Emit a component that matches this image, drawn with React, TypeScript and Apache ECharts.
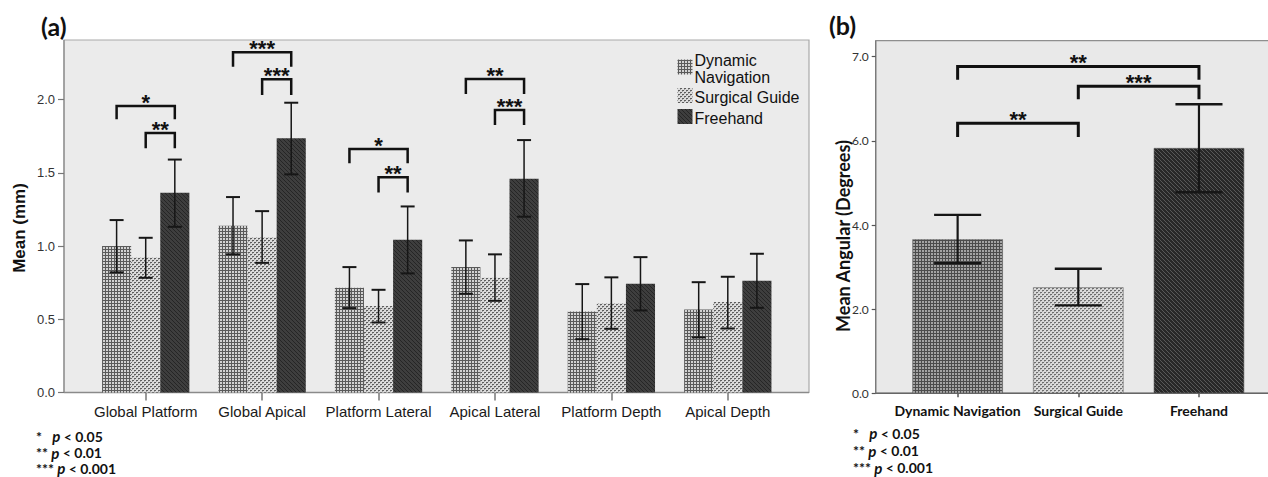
import React, { useEffect, useRef } from "react";
import * as echarts from "echarts";

// ---------- Panel (a) data ----------
const categoriesA = ["Global Platform", "Global Apical", "Platform Lateral", "Apical Lateral", "Platform Depth", "Apical Depth"];
const seriesNames = ["Dynamic Navigation", "Surgical Guide", "Freehand"];
const legendLabels = ["Dynamic\nNavigation", "Surgical Guide", "Freehand"];

const dynamicNavMean = [1.0, 1.138, 0.715, 0.856, 0.553, 0.567];
const dynamicNavLow = [0.82, 0.943, 0.576, 0.674, 0.364, 0.376];
const dynamicNavHigh = [1.177, 1.334, 0.856, 1.038, 0.74, 0.753];

const surgicalGuideMean = [0.922, 1.059, 0.59, 0.783, 0.61, 0.617];
const surgicalGuideLow = [0.783, 0.885, 0.478, 0.626, 0.435, 0.437];
const surgicalGuideHigh = [1.056, 1.238, 0.701, 0.943, 0.786, 0.79];

const freehandMean = [1.363, 1.735, 1.042, 1.459, 0.742, 0.762];
const freehandLow = [1.131, 1.489, 0.813, 1.2, 0.56, 0.578];
const freehandHigh = [1.59, 1.978, 1.27, 1.723, 0.924, 0.947];

const yTicksA = ["0.0", "0.5", "1.0", "1.5", "2.0"];

// brackets: [leftCat, leftSlot, rightCat, rightSlot, top, leg]
const bracketsA = [
  [0, -1, 0, 1, 1.956, 1.865],
  [0, 0, 0, 1, 1.771, 1.667],
  [1, -1, 1, 1, 2.322, 2.224],
  [1, 0, 1, 1, 2.138, 2.03],
  [2, -1, 2, 1, 1.662, 1.564],
  [2, 0, 2, 1, 1.469, 1.366],
  [3, -1, 3, 1, 2.14, 2.037],
  [3, 0, 3, 1, 1.928, 1.826],
];
const bracketLabelsA = ["*", "**", "***", "***", "*", "**", "**", "***"];

// ---------- Panel (b) data ----------
const categoriesB = ["Dynamic Navigation", "Surgical Guide", "Freehand"];
const angularMean = [3.66, 2.52, 5.83];
const angularLow = [3.09, 2.09, 4.78];
const angularHigh = [4.24, 2.96, 6.87];
const yTicksB = ["0.0", "2.0", "4.0", "6.0", "7.0"];
const bracketsB = [
  [0, 0, 2, 0, 7.77, 7.45],
  [1, 0, 2, 0, 7.3, 6.99],
  [0, 0, 1, 0, 6.42, 6.09],
];
const bracketLabelsB = ["**", "***", "**"];

const footnotes = [
  ["*   ", "p", " < 0.05"],
  ["** ", "p", " < 0.01"],
  ["*** ", "p", " < 0.001"],
];

function makePattern(size: number, bg: string, draw: (ctx: CanvasRenderingContext2D) => void) {
  const c = document.createElement("canvas");
  c.width = size;
  c.height = size;
  const ctx = c.getContext("2d")!;
  ctx.fillStyle = bg;
  ctx.fillRect(0, 0, size, size);
  draw(ctx);
  return { image: c, repeat: "repeat" } as any;
}

export default function App() {
  const ref = useRef<HTMLDivElement>(null);
  useEffect(() => {
    if (!ref.current) return;
    const chart = echarts.init(ref.current, undefined, { renderer: "svg" });

    const dnA = makePattern(3, "#d2d2d2", (c) => {
      c.fillStyle = "#5a5a5a";
      c.fillRect(0, 0, 3, 1);
      c.fillRect(0, 0, 1, 3);
    });
    const sgA = makePattern(4, "#dcdcdc", (c) => {
      c.fillStyle = "#5e5e5e";
      c.fillRect(0, 0, 2, 1);
      c.fillRect(2, 2, 2, 1);
      c.fillStyle = "#a4a4a4";
      c.fillRect(0, 1, 1, 1);
      c.fillRect(2, 3, 1, 1);
    });
    const fhA = makePattern(4, "#3e3e3e", (c) => {
      c.fillStyle = "#252525";
      for (let i = 0; i < 4; i++) c.fillRect(i, i, 1, 1);
    });
    const dnB = makePattern(3, "#a4a4a4", (c) => {
      c.fillStyle = "#4c4c4c";
      c.fillRect(0, 0, 3, 1);
      c.fillRect(0, 0, 1, 3);
    });
    const sgB = makePattern(4, "#dadada", (c) => {
      c.fillStyle = "#6e6e6e";
      c.fillRect(0, 0, 2, 1);
      c.fillRect(2, 2, 2, 1);
      c.fillStyle = "#adadad";
      c.fillRect(0, 1, 1, 1);
      c.fillRect(2, 3, 1, 1);
    });
    const fhB = makePattern(4, "#282828", (c) => {
      c.fillStyle = "#585858";
      for (let i = 0; i < 4; i++) c.fillRect(i, i, 1, 1);
    });
    const patternsA = [dnA, sgA, fhA];

    const meansA = [dynamicNavMean, surgicalGuideMean, freehandMean];
    const lowsA = [dynamicNavLow, surgicalGuideLow, freehandLow];
    const highsA = [dynamicNavHigh, surgicalGuideHigh, freehandHigh];

    const errorSeries = (xi: number, slot: number, frac: number, capFrac: number, lw: number, capW: number, lows: number[], highs: number[]) => ({
      type: "custom",
      xAxisIndex: xi,
      yAxisIndex: xi,
      z: 5,
      encode: { x: 0, y: [1, 2] },
      data: lows.map((l, i) => [i, l, highs[i]]),
      renderItem: (params: any, api: any) => {
        const cat = api.value(0);
        const lo = api.coord([cat, api.value(1)]);
        const hi = api.coord([cat, api.value(2)]);
        const band = api.size([1, 0])[0];
        const x = lo[0] + slot * band * frac;
        const half = (band * frac * capFrac) / 2;
        const st = { stroke: "#161616", lineWidth: lw };
        const cst = { stroke: "#161616", lineWidth: capW };
        return {
          type: "group",
          children: [
            { type: "line", shape: { x1: x, y1: lo[1], x2: x, y2: hi[1] }, style: st },
            { type: "line", shape: { x1: x - half, y1: hi[1], x2: x + half, y2: hi[1] }, style: cst },
            { type: "line", shape: { x1: x - half, y1: lo[1], x2: x + half, y2: lo[1] }, style: cst },
          ],
        };
      },
    });

    const bracketSeries = (xi: number, frac: number, data: number[][], labels: string[], lw: number) => ({
      type: "custom",
      xAxisIndex: xi,
      yAxisIndex: xi,
      z: 6,
      clip: false,
      encode: { x: [0, 2], y: [4, 5] },
      data,
      renderItem: (params: any, api: any) => {
        const band = api.size([1, 0])[0];
        const top = api.value(4);
        const leg = api.value(5);
        const l = api.coord([api.value(0), top]);
        const r = api.coord([api.value(2), top]);
        const yLeg = api.coord([api.value(0), leg])[1];
        const x1 = l[0] + api.value(1) * band * frac;
        const x2 = r[0] + api.value(3) * band * frac;
        const yTop = l[1];
        return {
          type: "group",
          children: [
            {
              type: "polyline",
              shape: { points: [[x1, yLeg], [x1, yTop], [x2, yTop], [x2, yLeg]] },
              style: { stroke: "#111", lineWidth: lw, fill: null },
            },
            {
              type: "text",
              x: (x1 + x2) / 2,
              y: yTop - 3.5,
              style: {
                text: labels[params.dataIndex],
                fill: "#111",
                font: "bold 22px 'Liberation Sans', Arial, sans-serif",
                align: "center",
                verticalAlign: "middle",
              },
            },
          ],
        };
      },
    });

    const legendChildren: any[] = [];
    const legendIconY = [59.5, 88, 109];
    const legendTextY = [52.5, 89.5, 110.5];
    legendLabels.forEach((lab, i) => {
      legendChildren.push({
        type: "rect",
        shape: { x: 677.5, y: legendIconY[i], width: 15, height: 15 },
        style: { fill: patternsA[i] },
      });
      legendChildren.push({
        type: "text",
        x: 694.5,
        y: legendTextY[i],
        style: {
          text: lab,
          fill: "#111",
          font: "16px 'Liberation Sans', Arial, sans-serif",
          lineHeight: 16.5,
          verticalAlign: "top",
          align: "left",
        },
      });
    });

    const footnoteText = (x: number, ys: number[]) =>
      footnotes.map((f, i) => ({
        type: "text",
        x,
        y: ys[i],
        style: {
          text: `{b|${f[0]}}{i|${f[1]}}{b|${f[2]}}`,
          verticalAlign: "middle",
          rich: {
            b: { fontFamily: "Lato", fontWeight: "bold", fontSize: 14, fill: "#111", lineHeight: 15 },
            i: { fontFamily: "Lato", fontWeight: "bold", fontStyle: "italic", fontSize: 15, fill: "#111", lineHeight: 15 },
          },
        },
      }));

    const option: any = {
      animation: false,
      backgroundColor: "#ffffff",
      grid: [
        { left: 87.5, width: 698.5, top: 99.5, height: 293 },
        { left: 897.3, width: 362, top: 56.7, height: 336.6 },
      ],
      xAxis: [
        {
          type: "category",
          gridIndex: 0,
          data: categoriesA,
          axisLine: { show: false },
          axisTick: { show: true, alignWithLabel: true, length: 8, lineStyle: { color: "#777", width: 1.5 } },
          axisLabel: { interval: 0, margin: 11, fontSize: 15, color: "#1a1a1a", fontFamily: "'Liberation Sans', Arial, sans-serif" },
        },
        {
          type: "category",
          gridIndex: 1,
          data: categoriesB,
          axisLine: { show: false },
          axisTick: { show: true, alignWithLabel: true, length: 4, lineStyle: { color: "#555", width: 1.5 } },
          axisLabel: { interval: 0, margin: 10, fontSize: 14, fontWeight: "bold", color: "#111", fontFamily: "Lato" },
        },
      ],
      yAxis: [
        {
          type: "value",
          gridIndex: 0,
          min: 0,
          max: 2,
          interval: 0.5,
          offset: 23.5,
          axisLine: { show: false },
          splitLine: { show: false },
          axisTick: { show: true, length: 6, lineStyle: { color: "#777", width: 1.2 } },
          axisLabel: {
            margin: 9,
            fontSize: 13,
            color: "#333",
            fontFamily: "'Liberation Sans', Arial, sans-serif",
            formatter: (v: number) => yTicksA[Math.round(v / 0.5)] ?? "",
          },
        },
        {
          type: "value",
          gridIndex: 1,
          min: 0,
          max: 8,
          interval: 2,
          offset: 21.6,
          axisLine: { show: false },
          splitLine: { show: false },
          axisTick: { show: true, length: 4, lineStyle: { color: "#555", width: 1.2 } },
          axisLabel: {
            margin: 7,
            fontSize: 12,
            color: "#333",
            fontFamily: "Lato",
            formatter: (v: number) => yTicksB[Math.round(v / 2)] ?? "",
          },
        },
      ],
      graphic: [
        {
          type: "rect",
          z: -10,
          shape: { x: 64, y: 40, width: 745, height: 352.5 },
          style: { fill: "#ebebeb", stroke: "#a9a9a9", lineWidth: 1.2 },
        },
        { type: "line", z: -9, shape: { x1: 64, y1: 392.5, x2: 809, y2: 392.5 }, style: { stroke: "#8a8a8a", lineWidth: 1.5 } },
        { type: "line", z: -9, shape: { x1: 64, y1: 40, x2: 64, y2: 392.5 }, style: { stroke: "#8a8a8a", lineWidth: 1.2 } },
        {
          type: "rect",
          z: -10,
          shape: { x: 875.7, y: 40.7, width: 400, height: 352.6 },
          style: { fill: "#e9e9e9", stroke: "#8f8f8f", lineWidth: 1.2 },
        },
        { type: "line", z: -9, shape: { x1: 875.7, y1: 393.3, x2: 1268, y2: 393.3 }, style: { stroke: "#666", lineWidth: 1.5 } },
        { type: "line", z: -9, shape: { x1: 875.7, y1: 40.7, x2: 875.7, y2: 393.3 }, style: { stroke: "#777", lineWidth: 1.2 } },
        { type: "group", children: legendChildren },
        {
          type: "text",
          x: 41,
          y: 26,
          style: { text: "(a)", fill: "#111", fontFamily: "Lato", fontWeight: "bold", fontSize: 25, verticalAlign: "middle" },
        },
        {
          type: "text",
          x: 829,
          y: 25,
          style: { text: "(b)", fill: "#111", fontFamily: "Lato", fontWeight: "bold", fontSize: 25, verticalAlign: "middle" },
        },
        {
          type: "text",
          x: 19,
          y: 228,
          rotation: Math.PI / 2,
          style: {
            text: "Mean (mm)",
            fill: "#111",
            fontFamily: "'Liberation Sans', Arial, sans-serif",
            fontWeight: "bold",
            fontSize: 17,
            align: "center",
            verticalAlign: "middle",
          },
        },
        {
          type: "text",
          x: 843,
          y: 236,
          rotation: Math.PI / 2,
          style: {
            text: "Mean Angular (Degrees)",
            fill: "#111",
            fontFamily: "Lato",
            fontWeight: "bold",
            fontSize: 18,
            align: "center",
            verticalAlign: "middle",
          },
        },
        ...footnoteText(36, [436, 452.5, 468]),
        ...footnoteText(853, [433, 450.5, 467.5]),
      ],
      series: [
        ...seriesNames.map((name, i) => ({
          name,
          type: "bar",
          xAxisIndex: 0,
          yAxisIndex: 0,
          barWidth: "25%",
          barGap: "0%",
          data: meansA[i],
          itemStyle: { color: patternsA[i] },
        })),
        ...[0, 1, 2].map((s) => errorSeries(0, s - 1, 0.25, 0.48, 1.5, 2, lowsA[s], highsA[s])),
        bracketSeries(0, 0.25, bracketsA, bracketLabelsA, 2.5),
        {
          name: "Mean Angular",
          type: "bar",
          xAxisIndex: 1,
          yAxisIndex: 1,
          barWidth: "75%",
          data: angularMean.map((v, i) => ({ value: v, itemStyle: { color: [dnB, sgB, fhB][i], borderColor: "#666", borderWidth: 0.6 } })),
        },
        errorSeries(1, 0, 0.75, 0.52, 2.2, 2.4, angularLow, angularHigh),
        bracketSeries(1, 0, bracketsB, bracketLabelsB, 3),
      ],
    };
    chart.setOption(option);
    return () => chart.dispose();
  }, []);
  return <div ref={ref} style={{ position: "absolute", left: 0, top: 0, width: 1268, height: 477 }} />;
}
